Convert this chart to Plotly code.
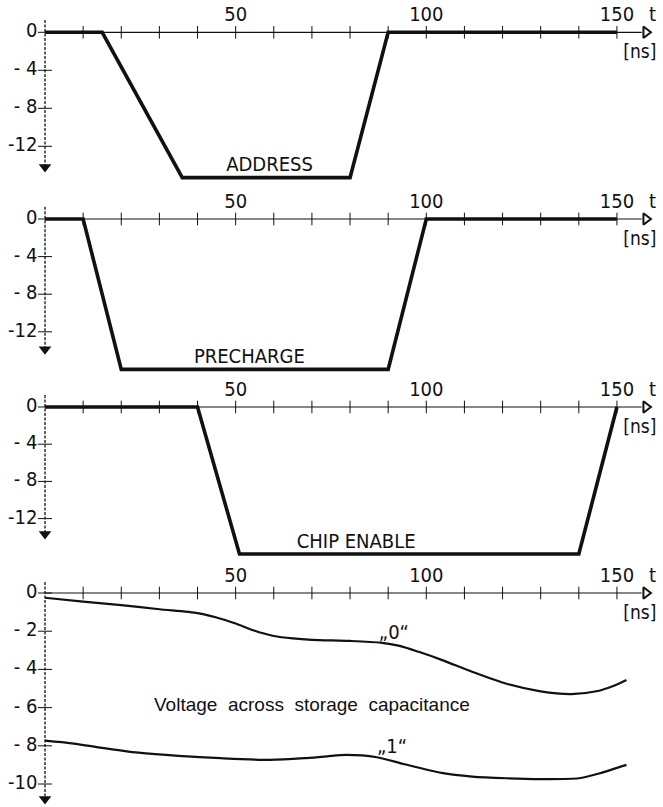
import plotly.graph_objects as go

# ---------------- data ----------------
address_t = [0, 15, 36, 80, 90, 150]
address_v = [0, 0, -15.3, -15.3, 0, 0]

precharge_t = [0, 10, 20, 90, 100, 150]
precharge_v = [0, 0, -16.0, -16.0, 0, 0]

chip_t = [0, 40, 51, 140, 150]
chip_v = [0, 0, -15.8, -15.8, 0]

v0_t = [0, 10, 20, 30, 40, 45, 50, 55, 60, 65, 70, 80, 88, 93, 98, 104, 112, 121, 130, 138, 145, 149, 152.5]
v0_v = [-0.25, -0.45, -0.63, -0.85, -1.05, -1.28, -1.6, -1.98, -2.25, -2.38, -2.45, -2.51, -2.6, -2.77,
        -3.08, -3.5, -4.12, -4.75, -5.15, -5.29, -5.13, -4.87, -4.55]

v1_t = [0, 7, 14, 24.5, 35, 46, 59, 68, 74, 79, 87, 94, 104, 112, 121, 130, 140, 145.5, 152.5]
v1_v = [-7.73, -7.87, -8.08, -8.36, -8.53, -8.65, -8.74, -8.65, -8.55, -8.48, -8.6, -8.95, -9.42,
        -9.61, -9.7, -9.74, -9.7, -9.44, -9.0]

x_ticks = [10, 20, 30, 40, 50, 60, 70, 80, 90, 100, 110, 120, 130, 140, 150]
x_tick_labels_pos = [50, 100, 150]
x_tick_labels = ["50", "100", "150"]

pulse_y_ticks = [0, -4, -8, -12]
pulse_y_labels = ["0", "-\u00a04", "-\u00a08", "-12"]

cap_y_ticks = [0, -2, -4, -6, -8, -10]
cap_y_labels = ["0", "-\u00a02", "-\u00a04", "-\u00a06", "-\u00a08", "-10"]

pulse_names = ["ADDRESS", "PRECHARGE", "CHIP ENABLE"]
pulse_name_pos = [(58.9, -14.07), (53.6, -14.8), (81.6, -14.6)]

caption = "Voltage\u00a0 across\u00a0 storage\u00a0 capacitance"
caption_pos = (70, -5.92)
label0 = "\u201e0\u201c"
label0_pos = (91.5, -2.15)
label1 = "\u201e1\u201c"
label1_pos = (91, -8.1)

# ---------------- geometry ----------------
W, H = 663, 807
PX0, PXS = 45.0, 3.813   # pixel of t=0, pixels per ns
x_range = [-PX0 / PXS, (W - PX0) / PXS]

# panel (pixels): zero pixel, px per unit, top pixel, bottom pixel, axis top value, arrow tip value
panels = [
    (32.3, 9.5, 0, 187, 1.3, -14.8),
    (219.0, 9.4, 187, 375, 1.3, -14.5),
    (407.0, 9.3, 375, 565, 1.3, -14.3),
    (593.0, 19.1, 565, 807, 0.57, -11.1),
]

FONT = "Liberation Sans Narrow, DejaVu Sans Condensed, Arial Narrow, sans-serif"
FONT2 = "Liberation Sans, Arial, sans-serif"
BLACK = "#111111"

fig = go.Figure()
layout = dict(
    width=W, height=H, autosize=False,
    margin=dict(l=0, r=0, t=0, b=0, pad=0),
    paper_bgcolor="white", plot_bgcolor="white",
    showlegend=False,
    xaxis=dict(range=x_range, domain=[0, 1], visible=False, fixedrange=True),
)

for i, (Z, S, T, B, ytop, ytip) in enumerate(panels):
    yname = "y" if i == 0 else f"y{i+1}"
    lname = "yaxis" if i == 0 else f"yaxis{i+1}"
    layout[lname] = dict(
        range=[-(B - Z) / S, (Z - T) / S],
        domain=[1 - B / H, 1 - T / H],
        visible=False, fixedrange=True, anchor="x",
    )
    kw = dict(xaxis="x", yaxis=yname, hoverinfo="skip", showlegend=False)

    # y axis line (dotted) with arrow
    fig.add_trace(go.Scatter(x=[0, 0], y=[ytop, ytip + 8 / S], mode="lines",
                             line=dict(color=BLACK, width=1.3, dash="3px,1.5px"), **kw))
    fig.add_trace(go.Scatter(x=[0], y=[ytip + 6 / S], mode="markers",
                             marker=dict(symbol="triangle-down", size=11, color=BLACK), **kw))
    # x axis line with arrow
    fig.add_trace(go.Scatter(x=[0, 156.5], y=[0, 0], mode="lines",
                             line=dict(color=BLACK, width=1.2), **kw))
    fig.add_trace(go.Scatter(x=[157.6], y=[0], mode="markers",
                             marker=dict(symbol="triangle-right-open", size=10, color=BLACK,
                                         line=dict(width=2, color=BLACK)), **kw))
    # x ticks
    fig.add_trace(go.Scatter(x=x_ticks, y=[0] * len(x_ticks), mode="markers",
                             marker=dict(symbol="line-ns", size=9,
                                         line=dict(width=1, color=BLACK)), **kw))
    # x tick labels, t, [ns]
    fig.add_trace(go.Scatter(x=x_tick_labels_pos, y=[16 / S] * len(x_tick_labels_pos),
                             mode="text", text=x_tick_labels,
                             textfont=dict(family=FONT, size=20, color=BLACK), **kw))
    fig.add_trace(go.Scatter(x=[159.3], y=[16 / S], mode="text", text=["t"],
                             textfont=dict(family=FONT, size=20, color=BLACK), **kw))
    fig.add_trace(go.Scatter(x=[156.0], y=[-21 / S], mode="text", text=["[ns]"],
                             textfont=dict(family=FONT, size=19, color=BLACK), **kw))

    # y ticks and labels
    if i < 3:
        yt, yl = pulse_y_ticks, pulse_y_labels
    else:
        yt, yl = cap_y_ticks, cap_y_labels
    fig.add_trace(go.Scatter(x=[0] * len(yt), y=yt, mode="markers",
                             marker=dict(symbol="line-ew", size=10,
                                         line=dict(width=1, color=BLACK)), **kw))
    fig.add_trace(go.Scatter(x=[-2.0] * len(yt), y=yt, mode="text", text=yl,
                             textposition="middle left",
                             textfont=dict(family=FONT, size=20, color=BLACK), **kw))

    # data
    if i < 3:
        tt, vv = [(address_t, address_v), (precharge_t, precharge_v), (chip_t, chip_v)][i]
        fig.add_trace(go.Scatter(x=tt, y=vv, mode="lines",
                                 line=dict(color=BLACK, width=3.6), **kw))
        px, py = pulse_name_pos[i]
        fig.add_trace(go.Scatter(x=[px], y=[py], mode="text", text=[pulse_names[i]],
                                 textfont=dict(family=FONT, size=20, color=BLACK), **kw))
    else:
        fig.add_trace(go.Scatter(x=v0_t, y=v0_v, mode="lines",
                                 line=dict(color=BLACK, width=2.2, shape="spline", smoothing=0.7), **kw))
        fig.add_trace(go.Scatter(x=v1_t, y=v1_v, mode="lines",
                                 line=dict(color=BLACK, width=2.2, shape="spline", smoothing=0.7), **kw))
        fig.add_trace(go.Scatter(x=[caption_pos[0]], y=[caption_pos[1]], mode="text", text=[caption],
                                 textfont=dict(family=FONT2, size=19, color=BLACK), **kw))
        fig.add_trace(go.Scatter(x=[label0_pos[0]], y=[label0_pos[1]], mode="text", text=[label0],
                                 textfont=dict(family=FONT, size=20, color=BLACK), **kw))
        fig.add_trace(go.Scatter(x=[label1_pos[0]], y=[label1_pos[1]], mode="text", text=[label1],
                                 textfont=dict(family=FONT, size=20, color=BLACK), **kw))

fig.update_layout(**layout)
# remove the browser's default 8px body margin so the 663x807 figure fills the window exactly
fig.write_html("out.html",
               config={"displayModeBar": False, "staticPlot": True},
               post_script="document.body.style.margin='0';document.body.style.overflow='hidden';")
